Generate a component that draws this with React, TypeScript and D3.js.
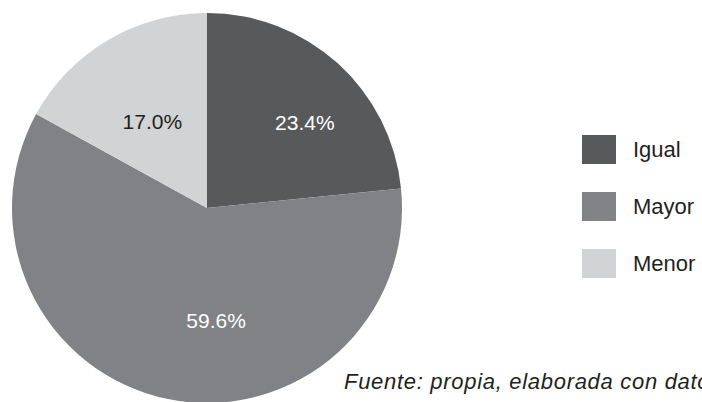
import React, { useRef, useEffect } from 'react';
import * as d3 from 'd3';

const categories = ['Igual', 'Mayor', 'Menor'];
const values = [23.4, 59.6, 17.0];
const colors = ['#58595b', '#808285', '#d1d3d4'];
const labelColors = ['#ffffff', '#ffffff', '#231f20'];
// nudges for the percent labels (Excel "best fit" placement)
const labelNudges: [number, number][] = [[14, 7], [34, -10], [9, 21]];
const source = 'Fuente: propia, elaborada con datos del estudio';

const width = 702;
const height = 402;

const PieChart = () => {
    const svgRef = useRef<SVGSVGElement | null>(null);

    useEffect(() => {
        const svg = d3.select(svgRef.current);
        svg.selectAll('*').remove();

        const cx = 207;
        const cy = 208;
        const radius = 195;
        const font = '"Liberation Sans", Arial, Helvetica, sans-serif';

        const pie = d3.pie<number>().sort(null).value((d) => d);
        const arcs = pie(values);

        const arc = d3.arc<d3.PieArcDatum<number>>().innerRadius(0).outerRadius(radius);
        const labelArc = d3.arc<d3.PieArcDatum<number>>().innerRadius(125).outerRadius(125);

        const g = svg.append('g').attr('transform', `translate(${cx},${cy})`);

        g.selectAll('path')
            .data(arcs)
            .join('path')
            .attr('d', arc)
            .attr('fill', (d, i) => colors[i]);

        g.selectAll('text')
            .data(arcs)
            .join('text')
            .attr('transform', (d, i) => {
                const [x, y] = labelArc.centroid(d);
                return `translate(${x + labelNudges[i][0]},${y + labelNudges[i][1]})`;
            })
            .attr('text-anchor', 'middle')
            .attr('dy', '0.36em')
            .attr('font-family', font)
            .attr('font-size', 21)
            .attr('fill', (d, i) => labelColors[i])
            .text((d) => `${d.data.toFixed(1)}%`);

        // Legend
        const legend = svg
            .append('g')
            .attr('transform', 'translate(582,135)')
            .selectAll('g')
            .data(categories)
            .join('g')
            .attr('transform', (d, i) => `translate(0,${i * 57})`);

        legend
            .append('rect')
            .attr('width', 34)
            .attr('height', 29)
            .attr('fill', (d, i) => colors[i]);

        legend
            .append('text')
            .attr('x', 51)
            .attr('y', 14.5)
            .attr('dy', '0.36em')
            .attr('font-family', font)
            .attr('font-size', 22)
            .attr('fill', '#231f20')
            .text((d) => d);

        svg.append('text')
            .attr('x', 344)
            .attr('y', 389)
            .attr('font-family', font)
            .attr('font-size', 22)
            .attr('letter-spacing', 0.7)
            .attr('font-style', 'italic')
            .attr('fill', '#231f20')
            .text(source);
    }, []);

    return (
        <svg
            ref={svgRef}
            width={width}
            height={height}
            style={{ position: 'absolute', left: 0, top: 0, background: '#ffffff' }}
        ></svg>
    );
};

export default function App() {
    return <PieChart />;
}
